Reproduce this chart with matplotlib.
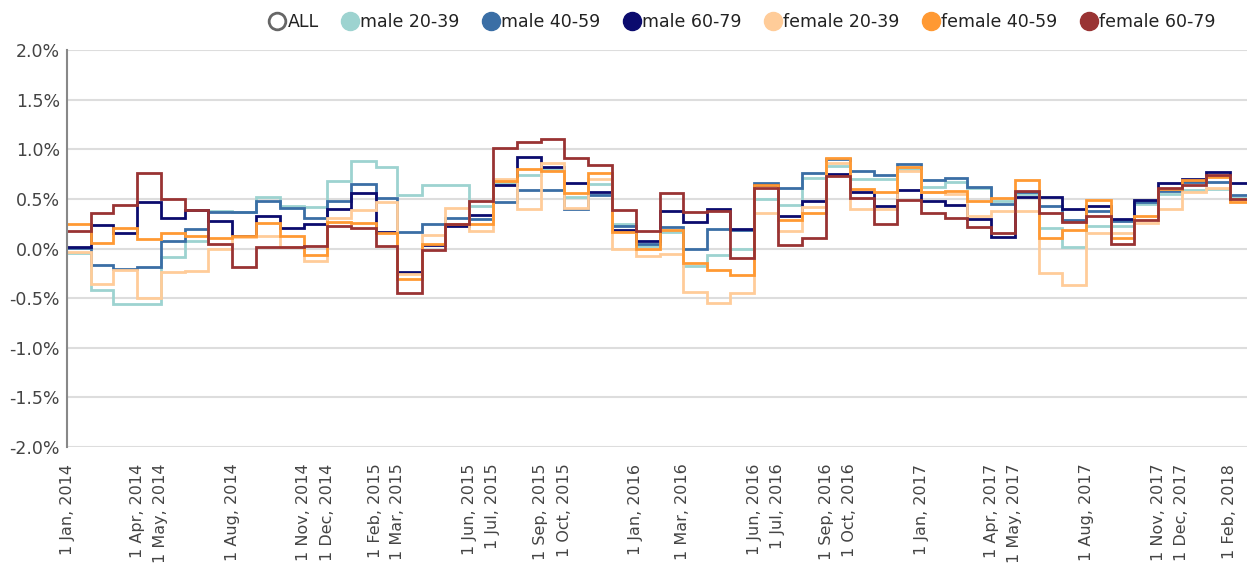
import matplotlib
matplotlib.use("Agg")
import matplotlib.pyplot as plt
from matplotlib.lines import Line2D
import pandas as pd
import numpy as np

months = pd.date_range("2014-01-01", "2018-02-01", freq="MS")

male_20_39 = [-0.05, -0.42, -0.56, -0.56, -0.09, 0.08, 0.38, 0.37, 0.52, 0.43,
              0.42, 0.68, 0.88, 0.82, 0.54, 0.64, 0.64, 0.43, 0.66, 0.74,
              0.80, 0.52, 0.65, 0.25, 0.03, 0.17, -0.18, -0.07, -0.01, 0.50,
              0.44, 0.71, 0.83, 0.70, 0.70, 0.80, 0.62, 0.67, 0.61, 0.48,
              0.55, 0.21, 0.02, 0.23, 0.23, 0.45, 0.55, 0.59, 0.60, 0.51]
male_40_59 = [0.01, -0.17, -0.21, -0.19, 0.08, 0.20, 0.37, 0.37, 0.48, 0.41,
              0.31, 0.48, 0.65, 0.51, 0.17, 0.25, 0.31, 0.30, 0.47, 0.59,
              0.59, 0.40, 0.54, 0.23, 0.05, 0.22, 0.00, 0.20, 0.19, 0.66,
              0.61, 0.76, 0.90, 0.78, 0.74, 0.85, 0.69, 0.71, 0.62, 0.45,
              0.57, 0.43, 0.29, 0.38, 0.28, 0.47, 0.58, 0.67, 0.67, 0.54]
male_60_79 = [0.02, 0.24, 0.16, 0.47, 0.31, 0.39, 0.28, 0.13, 0.33, 0.21,
              0.25, 0.40, 0.56, 0.17, -0.24, 0.04, 0.23, 0.34, 0.64, 0.92,
              0.82, 0.66, 0.57, 0.19, 0.08, 0.38, 0.27, 0.40, 0.20, 0.64,
              0.33, 0.48, 0.75, 0.57, 0.43, 0.59, 0.48, 0.44, 0.30, 0.12,
              0.52, 0.52, 0.40, 0.43, 0.30, 0.49, 0.66, 0.70, 0.77, 0.66]
female_20_39 = [-0.04, -0.36, -0.22, -0.50, -0.24, -0.23, -0.01, 0.12, 0.13, 0.02,
                -0.13, 0.31, 0.39, 0.47, -0.26, 0.14, 0.41, 0.18, 0.70, 0.40,
                0.86, 0.41, 0.70, -0.01, -0.08, -0.06, -0.44, -0.55, -0.45, 0.36,
                0.18, 0.42, 0.86, 0.40, 0.40, 0.78, 0.57, 0.55, 0.33, 0.38,
                0.38, -0.25, -0.37, 0.16, 0.16, 0.26, 0.40, 0.57, 0.61, 0.50]
female_40_59 = [0.25, 0.06, 0.21, 0.10, 0.16, 0.13, 0.11, 0.13, 0.26, 0.13,
                -0.07, 0.27, 0.26, 0.16, -0.31, 0.05, 0.25, 0.25, 0.68, 0.80,
                0.78, 0.56, 0.76, 0.17, 0.00, 0.19, -0.15, -0.22, -0.27, 0.64,
                0.29, 0.36, 0.91, 0.60, 0.57, 0.82, 0.57, 0.58, 0.48, 0.51,
                0.69, 0.11, 0.19, 0.49, 0.11, 0.33, 0.60, 0.69, 0.72, 0.47]
female_60_79 = [0.18, 0.36, 0.44, 0.76, 0.50, 0.39, 0.05, -0.19, 0.02, 0.02,
                0.03, 0.23, 0.21, 0.03, -0.45, -0.02, 0.25, 0.48, 1.01, 1.07,
                1.10, 0.91, 0.84, 0.39, 0.18, 0.56, 0.37, 0.38, -0.10, 0.61,
                0.04, 0.11, 0.73, 0.51, 0.25, 0.49, 0.36, 0.31, 0.22, 0.16,
                0.58, 0.36, 0.27, 0.33, 0.05, 0.29, 0.61, 0.64, 0.74, 0.50]

series_names = ["male 20-39", "male 40-59", "male 60-79",
                "female 20-39", "female 40-59", "female 60-79"]
series_values = [male_20_39, male_40_59, male_60_79,
                 female_20_39, female_40_59, female_60_79]
colors = ["#9dd3d0", "#3a6ea5", "#0b0b6e", "#ffcc99", "#ff9933", "#993333"]

tick_dates = ["2014-01-01", "2014-04-01", "2014-05-01", "2014-08-01", "2014-11-01",
              "2014-12-01", "2015-02-01", "2015-03-01", "2015-06-01", "2015-07-01",
              "2015-09-01", "2015-10-01", "2016-01-01", "2016-03-01", "2016-06-01",
              "2016-07-01", "2016-09-01", "2016-10-01", "2017-01-01", "2017-04-01",
              "2017-05-01", "2017-08-01", "2017-11-01", "2017-12-01", "2018-02-01"]
tick_labels = [pd.Timestamp(d).strftime("1 %b, %Y") for d in tick_dates]

x_end = pd.Timestamp("2018-02-23")

fig = plt.figure(figsize=(12.47, 5.64), dpi=100)
ax = fig.add_axes([67/1247, 1-447/564, 1-67/1247, (447-50)/564])

xs = list(months) + [x_end]
for name, vals, c in zip(series_names, series_values, colors):
    ys = list(vals) + [vals[-1]]
    ax.step(xs, ys, where="post", color=c, lw=2.0, solid_joinstyle="miter")

ax.set_xlim(months[0], x_end)
ax.set_ylim(-2.0, 2.0)
ax.set_yticks(np.arange(-2.0, 2.01, 0.5))
ax.yaxis.set_major_formatter(plt.FuncFormatter(lambda v, p: f"{v:.1f}%"))
ax.set_xticks([pd.Timestamp(d) for d in tick_dates])
ax.set_xticklabels(tick_labels, rotation=90, va="top", ha="center")
ax.tick_params(axis="both", length=0, colors="#444444")
ax.tick_params(axis="x", pad=12, labelsize=11.5)
ax.tick_params(axis="y", pad=5, labelsize=12.5)
ax.grid(axis="y", color="#dddddd", lw=1.5)
ax.set_axisbelow(True)
for s in ["top", "right", "bottom"]:
    ax.spines[s].set_visible(False)
ax.spines["left"].set_color("#888888")
ax.spines["left"].set_linewidth(1.5)

handles = [Line2D([], [], marker="o", ls="", markersize=12,
                  markerfacecolor="white", markeredgecolor="#666666", markeredgewidth=2)]
labels = ["ALL"]
for name, c in zip(series_names, colors):
    handles.append(Line2D([], [], marker="o", ls="", markersize=13,
                          markerfacecolor=c, markeredgecolor=c))
    labels.append(name)
fig.legend(handles, labels, loc="center right", bbox_to_anchor=(0.975, 1 - 22/564),
           ncol=7, frameon=False, fontsize=12.5, handletextpad=0.1,
           columnspacing=1.3, handlelength=1.0, labelcolor="#222222",
           borderaxespad=0, borderpad=0)

fig.savefig("out.png", dpi=100)
